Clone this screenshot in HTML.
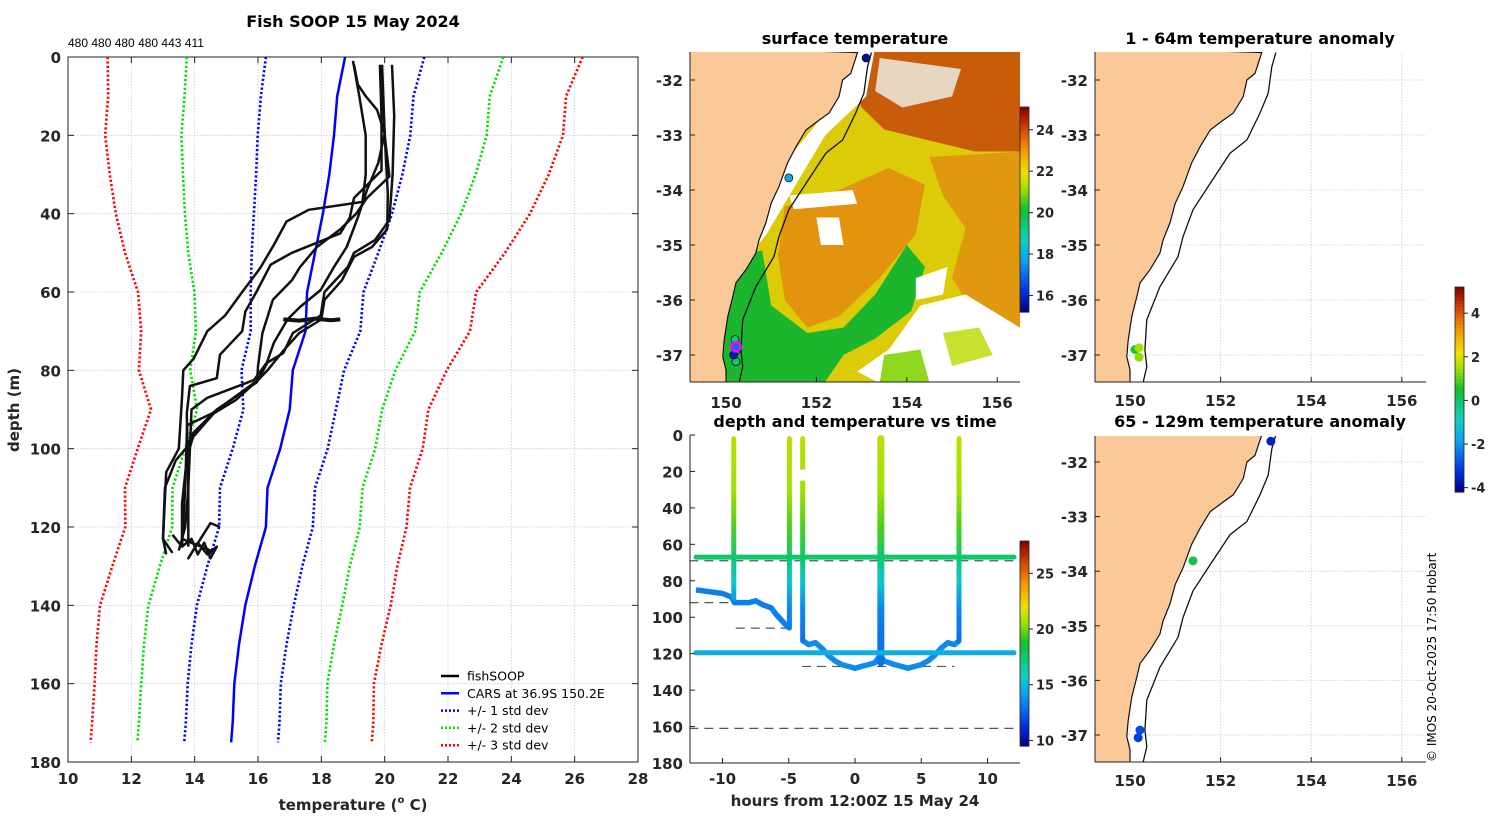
<!DOCTYPE html>
<html><head><meta charset="utf-8">
<style>
html,body{margin:0;padding:0;background:#fff;}
svg{display:block;font-family:"DejaVu Sans","Liberation Sans",sans-serif;}
.tk{font-size:15px;font-weight:bold;fill:#262626;}
.cb{font-size:13px;font-weight:bold;fill:#262626;}
.ttl{font-size:16px;font-weight:bold;fill:#000;}
.lg{font-size:12.5px;fill:#000;}
</style></head>
<body>
<svg id="fig" width="1500" height="820" viewBox="0 0 1500 820">
<defs>
<clipPath id="c1"><rect x="690" y="52" width="330" height="330"/></clipPath>
<clipPath id="c3"><rect x="1095" y="52" width="331" height="330"/></clipPath>
<clipPath id="c4"><rect x="1095" y="436" width="331" height="326"/></clipPath>
<clipPath id="cm"><rect x="68" y="57" width="570" height="705"/></clipPath>
</defs>
<text class="ttl" x="353" y="27" text-anchor="middle">Fish SOOP 15 May 2024</text>
<text x="68" y="47" font-size="12" font-family="Liberation Sans, sans-serif">480 480 480 480 443 411</text>
<text class="tk" x="0" y="0" text-anchor="middle" transform="translate(19,410) rotate(-90)">depth (m)</text>
<text class="tk" x="353" y="810" text-anchor="middle">temperature (<tspan font-size="10" dy="-7">o</tspan><tspan dy="7"> C)</tspan></text>
<text class="ttl" x="855" y="44" text-anchor="middle">surface temperature</text>
<text class="ttl" x="855" y="427" text-anchor="middle">depth and temperature vs time</text>
<text class="tk" x="855" y="806" text-anchor="middle">hours from 12:00Z 15 May 24</text>
<text class="ttl" x="1260" y="44" text-anchor="middle">1 - 64m temperature anomaly</text>
<text class="ttl" x="1260" y="427" text-anchor="middle">65 - 129m temperature anomaly</text>
<text x="0" y="0" font-size="12" font-family="DejaVu Sans, sans-serif" transform="translate(1436,762) rotate(-90)">© IMOS 20-Oct-2025 17:50 Hobart</text>
<g id="g"></g>
</svg>
<script>
// ---------- data ----------
const carsDepth = [0,10,20,30,40,50,60,70,80,90,100,110,120,130,140,150,160,170,175];
const carsMean  = [18.75,18.5,18.4,18.25,18.05,17.8,17.55,17.5,17.1,17.0,16.7,16.3,16.25,15.9,15.6,15.4,15.25,15.2,15.15];
const carsStd   = [2.5,2.41,2.41,2.31,2.18,2.0,1.78,1.73,1.62,1.46,1.5,1.5,1.48,1.5,1.53,1.5,1.47,1.48,1.48];
const p1Depth = [1,10,20,30,37,39,42,48,54,60,66,70,77,80,87,100,106,123,127];
const p1Temp  = [19.0,19.2,19.4,19.4,19.3,17.6,16.9,16.5,16.06,15.5,14.96,14.4,13.97,13.64,13.6,13.5,13.1,13.0,13.1];
const p2Depth = [2,15,29,36,41,45,50,53,60,65,70,76,82,84,91,110,120,126];
const p2Temp  = [19.85,19.9,19.9,19.03,18.9,18.6,17.07,16.4,15.95,15.6,15.5,14.8,14.7,13.85,13.75,13.8,13.7,13.5];
const p3Depth = [2,20,30.5,36,40,44,48.5,53.6,57,62,70.5,79,83,90,96,99.6,103,110,123,126.6];
const p3Temp  = [19.9,20.0,20.15,19.44,19.1,18.6,17.86,17.33,17.07,16.47,16.14,16.0,15.97,14.7,13.95,13.76,13.4,13.06,13.0,13.3];
const p4Depth = [2,20,35,44,48.5,51,57,62,67,70.5,75,80,82.5,87.6,91,97,102,114,123,126];
const p4Temp  = [19.92,20.0,20.1,20.08,19.6,19.03,18.65,18.1,18.0,17.3,16.8,16.3,16.0,15.3,14.6,13.95,13.76,13.6,13.6,14.5];
const p5Depth = [2,15,30,41.6,46.7,50,53.6,60,66,70.5,75.6,78,82.5,91,94,110,125];
const p5Temp  = [20.23,20.3,20.25,20.15,19.7,19.03,18.84,18.1,17.98,17.1,16.8,16.3,16.0,14.55,13.76,13.7,13.6];
const p6Depth = [2,7,10,13.5,19.5,27,34,41,48.5,53.6,59.5,63.8,67,73,78,82.5,87,90,110,125];
const p6Temp  = [19.03,19.15,19.4,19.76,20.0,19.8,19.44,19.15,18.8,18.4,17.98,17.33,16.93,16.5,16.28,15.87,14.4,13.9,13.8,13.8];
const towDepth = [67,67.3,66.8,67.2,67];
const towTemp  = [16.8,17.3,17.8,18.3,18.6];
const btmDepth = [122,125,123,127,124,128,125,127,124,128,119,120];
const btmTemp  = [13.3,13.6,13.9,14.1,14.3,14.5,14.7,14.4,14.1,13.8,14.5,14.8];
const legendLabels = ['fishSOOP','CARS at 36.9S 150.2E','+/- 1 std dev','+/- 2 std dev','+/- 3 std dev'];
const mainXTicks = [10,12,14,16,18,20,22,24,26,28];
const mainYTicks = [0,20,40,60,80,100,120,140,160,180];

// time panel
const profTimes  = [-9.15,-4.95,-3.95,1.95,7.85];
const profBottom = [90,106,113,125,113];
const track1Hours = [-12,12];
const track1Depth = [67,67];
const track2Hours = [-12,12];
const track2Depth = [119.5,119.5];
const bottomHours1 = [-12,-11,-10,-9.3,-9.1,-8,-7.5,-7,-6.3,-6,-5.5,-5];
const bottomDepth1 = [85,86,87,89,92,92,91,93,95,98,102,106];
const bottomHours2 = [-3.9,-3.5,-3,-2.5,-2,-1.5,-1,-0.5,0,0.5,1,1.5,1.9,2.2,2.6,3,3.5,4,4.5,5,5.5,6,6.5,7,7.5,7.85];
const bottomDepth2 = [113,115,114,117,121,124,126,127,128,127,126,125,121,124,125,126,127,128,127,126,124,121,117,114,115,113];
const colorDepths = [0,30,50,67,80,95,110,130];
const colorTemps  = [21,20.6,19.5,17.5,15.5,13.5,13.0,13.0];
const dashDepth = [69,92,106,127,161];
const dashStart = [-12.5,-12.5,-9,-4,-12.5];
const dashEnd   = [12.5,-9,-5,7.5,12.5];
const timeXTicks = [-10,-5,0,5,10];
const timeYTicks = [0,20,40,60,80,100,120,140,160,180];

// maps
const coastLon = [152.91,152.76,152.58,152.5,152.28,152.06,151.77,151.55,151.36,151.17,151.0,150.88,150.73,150.66,150.44,150.22,150.15,150.04,149.96,149.93,150.0,150.0];
const coastLat = [-31.5,-31.88,-32.0,-32.3,-32.6,-32.73,-32.91,-33.21,-33.51,-33.94,-34.24,-34.6,-34.91,-35.15,-35.45,-35.69,-35.94,-36.3,-36.73,-37.03,-37.27,-37.5];
const shelfLon = [153.22,153.13,153.05,152.87,152.58,152.21,151.77,151.39,151.17,151.06,150.66,150.37,150.33,150.37,150.29];
const shelfLat = [-31.5,-31.76,-32.24,-32.6,-33.09,-33.33,-33.88,-34.36,-34.85,-35.21,-35.76,-36.36,-36.91,-37.21,-37.5];
const lonTicks = [150,152,154,156];
const latTicks = [-32,-33,-34,-35,-36,-37];
const sstDotLon = [153.1,151.39,150.2,150.22,150.22,150.22,150.17];
const sstDotLat = [-31.6,-33.78,-36.72,-36.92,-37.12,-36.85,-37.0];
const sstDotVal = [15.5,17.8,19.5,19.0,19.5,17,15.8];
const anomShallowLon = [150.11,150.2,150.2];
const anomShallowLat = [-36.9,-36.87,-37.04];
const anomShallowVal = [0.6,1.5,1.3];
const anomDeepLon = [153.11,151.39,150.22,150.18];
const anomDeepLat = [-31.62,-33.81,-36.91,-37.05];
const anomDeepVal = [-3.6,0.2,-2.9,-3.1];
const sstTicks = [16,18,20,22,24];
const tempCbTicks = [10,15,20,25];
const anomTicks = [-4,-2,0,2,4];

// ---------- helpers ----------
const NS='http://www.w3.org/2000/svg';
const G=document.getElementById('g');
function mk(tag, attrs, name, parent){
  const el=document.createElementNS(NS,tag);
  for(const k in attrs) el.setAttribute(k,attrs[k]);
  
  
  (parent||G).appendChild(el);
  return el;
}
function txt(x,y,s,cls,anchor,name,parent){
  const t=mk('text',{x:x,y:y,'class':cls,'text-anchor':anchor},name,parent);
  t.textContent=s; return t;
}
const stops=[[0,[0,0,127]],[0.1,[0,48,224]],[0.25,[16,160,240]],[0.35,[16,208,192]],[0.5,[16,192,48]],[0.6,[160,224,0]],[0.68,[240,224,0]],[0.8,[240,144,0]],[0.9,[208,64,0]],[1,[128,0,0]]];
function cmap(v){
  v=Math.max(0,Math.min(1,v));
  for(let i=1;i<stops.length;i++){
    if(v<=stops[i][0]){
      const a=stops[i-1],b=stops[i],f=(v-a[0])/(b[0]-a[0]);
      const c=a[1].map((x,j)=>Math.round(x+(b[1][j]-x)*f));
      return 'rgb('+c.join(',')+')';
    }
  }
  return 'rgb(128,0,0)';
}

// ---------- main profile panel ----------
const mx=T=>68+(T-10)*31.667;
const my=d=>57+d*3.9167;
const mainG=mk('g',{},'profile-panel');
mainXTicks.forEach(t=>{
  mk('line',{x1:mx(t),x2:mx(t),y1:57,y2:762,stroke:'#c4c8e6','stroke-width':0.8,'stroke-dasharray':'1.5,1.5'},'x-grid-line',mainG);
  mk('line',{x1:mx(t),x2:mx(t),y1:762,y2:756,stroke:'#222'},'x-tick',mainG);
  mk('line',{x1:mx(t),x2:mx(t),y1:57,y2:63,stroke:'#222'},'x-tick-top',mainG);
  txt(mx(t),784,String(t),'tk','middle','x-tick-label',mainG);
});
mainYTicks.forEach(t=>{
  mk('line',{x1:68,x2:638,y1:my(t),y2:my(t),stroke:'#c4c8e6','stroke-width':0.8,'stroke-dasharray':'1.5,1.5'},'y-grid-line',mainG);
  mk('line',{x1:68,x2:74,y1:my(t),y2:my(t),stroke:'#222'},'y-tick',mainG);
  mk('line',{x1:632,x2:638,y1:my(t),y2:my(t),stroke:'#222'},'y-tick-right',mainG);
  txt(61,my(t)+6,String(t),'tk','end','y-tick-label',mainG);
});
mk('rect',{x:68,y:57,width:570,height:705,fill:'none',stroke:'#222','stroke-width':1},'plot-frame',mainG);
const clipG=mk('g',{'clip-path':'url(#cm)'},'profile-series',mainG);
function pathFrom(xs,ys,fx,fy){return xs.map((v,i)=>(i?'L':'M')+fx(v).toFixed(1)+','+fy(ys[i]).toFixed(1)).join(' ');}
[[3,'#ff0000','std3'],[2,'#00e000','std2'],[1,'#0000ff','std1']].forEach(([k,col,nm])=>{
  [-1,1].forEach(sg=>{
    const vals=carsMean.map((m,i)=>m+sg*k*carsStd[i]);
    mk('path',{d:pathFrom(vals,carsDepth,mx,my),fill:'none',stroke:col,'stroke-width':2.6,'stroke-dasharray':'2.2,2.2'},nm+(sg>0?'-upper':'-lower')+'-line',clipG);
  });
});
mk('path',{d:pathFrom(carsMean,carsDepth,mx,my),fill:'none',stroke:'#0000ff','stroke-width':2.5},'cars-mean-line',clipG);
[[p1Temp,p1Depth],[p2Temp,p2Depth],[p3Temp,p3Depth],[p4Temp,p4Depth],[p5Temp,p5Depth],[p6Temp,p6Depth],[towTemp,towDepth],[btmTemp,btmDepth]].forEach(([t,d],i)=>{
  mk('path',{d:pathFrom(t,d,mx,my),fill:'none',stroke:'#111','stroke-width':i==6?4:2.5,'stroke-linejoin':'round'},'fishsoop-profile-'+(i+1),clipG);
});
// legend
const lgG=mk('g',{},'legend',mainG);
const lgCols=['#000','#0000ff','#0000ff','#00e000','#ff0000'];
legendLabels.forEach((s,i)=>{
  const y=676+i*17.3;
  mk('line',{x1:441,x2:459,y1:y,y2:y,stroke:lgCols[i],'stroke-width':2.5,'stroke-dasharray':i>1?'2,2':'none'},'legend-swatch',lgG);
  txt(467,y+4.5,s,'lg','start','legend-entry',lgG);
});

// ---------- map helpers ----------
function makeMap(name, ox, oy, sx, sy, clip, box){
  const px=lon=>ox+(lon-150)*sx, py=lat=>oy+(-32-lat)*sy;
  const g=mk('g',{},name);
  return {px,py,g,clip,box};
}
function coastPath(m){
  let d='M'+m.box[0]+','+(m.box[1]-5);
  coastLon.forEach((lo,i)=>{d+=' L'+m.px(lo).toFixed(1)+','+m.py(coastLat[i]).toFixed(1);});
  d+=' L'+m.px(149.5)+','+(m.box[3]+5)+' L'+(m.box[0]-5)+','+(m.box[3]+5)+' Z';
  return d;
}
function drawGeo(m, showGrid){
  const cg=mk('g',{'clip-path':'url(#'+m.clip+')'},'map-layer',m.g);
  if(showGrid){
    lonTicks.forEach(l=>mk('line',{x1:m.px(l),x2:m.px(l),y1:m.box[1],y2:m.box[3],stroke:'#c4c8e6','stroke-width':0.8,'stroke-dasharray':'1.5,1.5'},'lon-grid-line',cg));
    latTicks.forEach(l=>mk('line',{x1:m.box[0],x2:m.box[2],y1:m.py(l),y2:m.py(l),stroke:'#c4c8e6','stroke-width':0.8,'stroke-dasharray':'1.5,1.5'},'lat-grid-line',cg));
  }
  return cg;
}
function drawCoast(m,cg){
  mk('path',{d:coastPath(m),fill:'#fbc897',stroke:'#111','stroke-width':1.2},'land',cg);
  mk('path',{d:pathFrom(shelfLon,shelfLat,m.px,m.py),fill:'none',stroke:'#111','stroke-width':1.3},'shelf-contour',cg);
}
function drawAxes(m,labY){
  const [x0,y0,x1,y1]=m.box;
  mk('line',{x1:x0,x2:x0,y1:y0,y2:y1,stroke:'#222'},'map-left-axis',m.g);
  mk('line',{x1:x0,x2:x1,y1:y1,y2:y1,stroke:'#222'},'map-bottom-axis',m.g);
  lonTicks.forEach(l=>{
    mk('line',{x1:m.px(l),x2:m.px(l),y1:y1,y2:y1-5,stroke:'#222'},'lon-tick',m.g);
    txt(m.px(l),labY,String(l),'tk','middle','lon-tick-label',m.g);
  });
  latTicks.forEach(l=>{
    mk('line',{x1:x0,x2:x0+5,y1:m.py(l),y2:m.py(l),stroke:'#222'},'lat-tick',m.g);
    txt(x0-7,m.py(l)+6,String(l),'tk','end','lat-tick-label',m.g);
  });
}
function poly(m,cg,pts,fill,name){
  const d=pts.map((p,i)=>(i?'L':'M')+m.px(p[0]).toFixed(1)+','+m.py(p[1]).toFixed(1)).join(' ')+' Z';
  return mk('path',{d:d,fill:fill},name,cg);
}
function colorbar(x,y0,y1,vmin,vmax,ticks,cmin,cmax,name){
  const g=mk('g',{},name);
  const n=60,h=(y1-y0)/n;
  for(let i=0;i<n;i++){
    const v=vmax-(i+0.5)*(vmax-vmin)/n;
    mk('rect',{x:x,y:y0+i*h,width:9,height:h+0.6,fill:cmap((v-cmin)/(cmax-cmin))},'colorbar-cell',g);
  }
  mk('rect',{x:x,y:y0,width:9,height:y1-y0,fill:'none',stroke:'#222','stroke-width':0.8},'colorbar-frame',g);
  ticks.forEach(t=>{
    const y=y1-(t-vmin)/(vmax-vmin)*(y1-y0);
    mk('line',{x1:x+9,x2:x+13,y1:y,y2:y,stroke:'#222'},'colorbar-tick',g);
    txt(x+16,y+5,String(t),'cb','start','colorbar-tick-label',g);
  });
}

// ---------- map 1: SST ----------
const m1=makeMap('sst-map',726,80,45.2,55,'c1',[690,52,1020,382]);
const c1=drawGeo(m1,false);
const SMIN=15.2,SMAX=25.1;
const sstc=v=>cmap((v-SMIN)/(SMAX-SMIN));
mk('rect',{x:690,y:52,width:330,height:330,fill:'#dccb08'},'sst-base',c1);
poly(m1,c1,[[151.3,-34.3],[152.5,-34.0],[153.6,-33.6],[154.4,-33.9],[154.2,-34.8],[153.4,-35.6],[152.5,-36.3],[151.8,-36.5],[151.3,-36.0],[151.15,-35.2]],'#e2940e','sst-warm-eddy');
poly(m1,c1,[[154.5,-33.4],[156.6,-33.3],[156.6,-36.9],[155.6,-36.4],[155.0,-35.6],[155.3,-34.7],[154.8,-34.1]],'#e0980e','sst-east-warm');
poly(m1,c1,[[152.9,-31.4],[156.7,-31.4],[156.7,-33.3],[155.5,-33.3],[154.5,-33.1],[153.5,-32.9],[153.0,-32.5],[152.8,-32.0]],'#c85c0a','sst-northeast-warm');
poly(m1,c1,[[153.4,-31.6],[155.2,-31.8],[155.0,-32.3],[153.9,-32.5],[153.3,-32.2]],'#e7d7c0','sst-cloud-ne');
poly(m1,c1,[[150.1,-35.2],[150.8,-35.1],[151.0,-36.1],[151.8,-36.6],[152.6,-36.5],[153.3,-35.9],[154.0,-35.0],[154.4,-35.4],[154.1,-36.2],[153.3,-36.7],[152.6,-37.0],[152.1,-37.6],[149.9,-37.6]],'#1bb62e','sst-cool-south');
poly(m1,c1,[[152.9,-31.4],[153.3,-31.4],[153.1,-32.3],[152.2,-33.0],[151.4,-34.1],[150.9,-34.8],[150.6,-35.1],[150.5,-34.6],[151.2,-33.6],[152.4,-32.4]],'#ffffff','sst-cloud-coast');
poly(m1,c1,[[154.3,-36.1],[155.3,-35.9],[156.7,-36.6],[156.7,-37.6],[153.6,-37.6],[152.9,-37.3],[153.6,-36.9]],'#ffffff','sst-cloud-southeast');
poly(m1,c1,[[151.4,-34.1],[152.8,-34.0],[152.9,-34.25],[151.5,-34.35]],'#ffffff','sst-cloud-streak');
poly(m1,c1,[[152.0,-34.5],[152.5,-34.5],[152.6,-35.0],[152.1,-35.0]],'#ffffff','sst-cloud-patch');
poly(m1,c1,[[154.8,-36.6],[155.6,-36.5],[155.9,-37.0],[155.0,-37.2]],'#c8e030','sst-green-patch');
poly(m1,c1,[[153.5,-37.0],[154.3,-36.9],[154.5,-37.5],[153.4,-37.5]],'#8fd820','sst-green-patch');
poly(m1,c1,[[154.2,-35.6],[154.9,-35.4],[154.8,-35.9],[154.2,-36.0]],'#ffffff','sst-cloud-patch');
drawCoast(m1,c1);
sstDotLon.forEach((lo,i)=>{
  mk('circle',{cx:m1.px(lo),cy:m1.py(sstDotLat[i]),r:4,fill:sstc(sstDotVal[i]),stroke:'#111','stroke-width':0.8},'sst-station-dot',c1);
});
mk('circle',{cx:m1.px(150.22),cy:m1.py(-36.85),r:4.5,fill:'none',stroke:'#ff00ff','stroke-width':2.5},'current-position-marker',c1);
drawAxes(m1,408);
colorbar(1020,107,312,SMIN,SMAX,sstTicks,SMIN,SMAX,'sst-colorbar');

// ---------- time panel ----------
const sc=v=>cmap((v-9.5)/(27.9-9.5));
const tx=h=>855+h*13.25, ty=d=>435+d*1.8222;
const tg=mk('g',{},'time-panel');
const defs=document.querySelector('defs');
const grad=mk('linearGradient',{id:'dg',gradientUnits:'userSpaceOnUse',x1:0,y1:ty(0),x2:0,y2:ty(130)},'depth-gradient',defs);
colorDepths.forEach((d,i)=>{
  mk('stop',{offset:(d/130).toFixed(3),'stop-color':sc(colorTemps[i])},'gradient-stop',grad);
});
dashDepth.forEach((d,i)=>{
  mk('line',{x1:tx(dashStart[i]),x2:tx(dashEnd[i]),y1:ty(d),y2:ty(d),stroke:'#555','stroke-width':1.2,'stroke-dasharray':'9,6'},'bottom-depth-dashed-line',tg);
});
mk('path',{d:pathFrom(bottomHours1,bottomDepth1,tx,ty),fill:'none',stroke:sc(13.3),'stroke-width':5.5,'stroke-linejoin':'round'},'bottom-track-1',tg);
mk('path',{d:pathFrom(bottomHours2,bottomDepth2,tx,ty),fill:'none',stroke:sc(13.6),'stroke-width':5.5,'stroke-linejoin':'round'},'bottom-track-2',tg);
profTimes.forEach((h,i)=>{
  mk('line',{x1:tx(h),x2:tx(h),y1:ty(2),y2:ty(profBottom[i]),stroke:'url(#dg)','stroke-width':i==3?7:5,'stroke-linecap':'round'},'vertical-profile',tg);
});
mk('line',{x1:tx(-3.95),x2:tx(-3.95),y1:ty(19),y2:ty(25),stroke:'#fff','stroke-width':7},'profile-gap',tg);
mk('path',{d:pathFrom(track1Hours,track1Depth,tx,ty),fill:'none',stroke:sc(17.6),'stroke-width':5,'stroke-linecap':'round'},'tow-track-67m',tg);
mk('path',{d:pathFrom(track2Hours,track2Depth,tx,ty),fill:'none',stroke:sc(14.6),'stroke-width':5,'stroke-linecap':'round'},'tow-track-119m',tg);
mk('line',{x1:690,x2:690,y1:435,y2:763,stroke:'#222'},'time-y-axis',tg);
mk('line',{x1:690,x2:1020,y1:763,y2:763,stroke:'#222'},'time-x-axis',tg);
timeXTicks.forEach(t=>{
  mk('line',{x1:tx(t),x2:tx(t),y1:763,y2:758,stroke:'#222'},'time-x-tick',tg);
  txt(tx(t),784,String(t),'tk','middle','time-x-tick-label',tg);
});
timeYTicks.forEach(t=>{
  mk('line',{x1:690,x2:695,y1:ty(t),y2:ty(t),stroke:'#222'},'time-y-tick',tg);
  txt(683,ty(t)+6,String(t),'tk','end','time-y-tick-label',tg);
});
colorbar(1020,541,746,9.5,27.9,tempCbTicks,9.5,27.9,'temperature-colorbar');

// ---------- anomaly maps ----------
const ac=v=>cmap((v+4.2)/(5.2+4.2));
const m3=makeMap('anomaly-shallow-map',1130,80,45.3,55,'c3',[1095,52,1426,382]);
const c3=drawGeo(m3,true); drawCoast(m3,c3);
anomShallowLon.forEach((lo,i)=>mk('circle',{cx:m3.px(lo),cy:m3.py(anomShallowLat[i]),r:4.5,fill:ac(anomShallowVal[i])},'anomaly-dot',c3));
drawAxes(m3,406);
const m4=makeMap('anomaly-deep-map',1130,462,45.3,54.6,'c4',[1095,436,1426,762]);
const c4=drawGeo(m4,true); drawCoast(m4,c4);
anomDeepLon.forEach((lo,i)=>mk('circle',{cx:m4.px(lo),cy:m4.py(anomDeepLat[i]),r:4.5,fill:ac(anomDeepVal[i])},'anomaly-dot',c4));
drawAxes(m4,786);
colorbar(1455,287,492,-4.2,5.2,anomTicks,-4.2,5.2,'anomaly-colorbar');
</script>
</body></html>
